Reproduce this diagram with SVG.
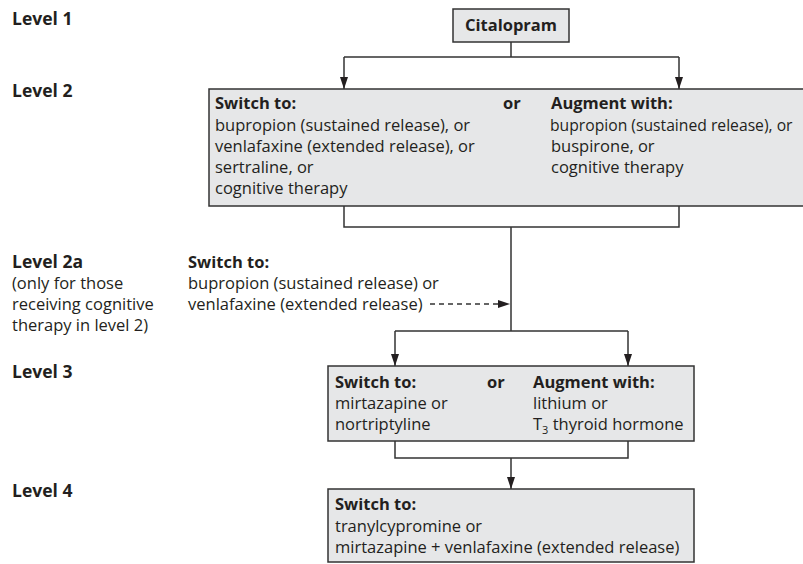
<svg xmlns="http://www.w3.org/2000/svg" width="803" height="564" viewBox="0 0 803 564">
<defs>
<marker id="ah" viewBox="0 0 12 8" refX="12" refY="4" markerWidth="12" markerHeight="8" markerUnits="userSpaceOnUse" orient="auto">
<path d="M0,0 L12,4 L0,8 Z" fill="#231f20"/>
</marker>
<style>
text{font-family:"Open Sans","Noto Sans","Liberation Sans",sans-serif;fill:#231f20;font-size:16.5px}
.b{font-weight:bold}
.lv{font-weight:bold;font-size:17.5px}
.box{fill:#e6e7e8;stroke:#333;stroke-width:1.5}
.ln{fill:none;stroke:#333;stroke-width:1.5}
.dash{fill:none;stroke:#333;stroke-width:1.3;stroke-dasharray:5 4}
</style>
</defs>
<rect width="803" height="564" fill="#fff"/>
<g id="labels">
<text class="lv" x="12" y="25">Level 1</text>
<text class="lv" x="12" y="97">Level 2</text>
<text class="lv" x="12" y="268">Level 2a</text>
<text x="12" y="289">(only for those</text>
<text x="12" y="310">receiving cognitive</text>
<text x="12" y="331">therapy in level 2)</text>
<text class="lv" x="12" y="378">Level 3</text>
<text class="lv" x="12" y="497">Level 4</text>
</g>
<g id="connectors">
<path class="ln" d="M511,42 V57 M344,57 H679"/>
<path class="ln" d="M344,57 V89" marker-end="url(#ah)"/>
<path class="ln" d="M679,57 V89" marker-end="url(#ah)"/>
<path class="ln" d="M344,206 V227 H679 V206 M511,227 V331 M395,331 H628"/>
<path class="dash" d="M430,304 H510" marker-end="url(#ah)"/>
<path class="ln" d="M395,331 V366" marker-end="url(#ah)"/>
<path class="ln" d="M628,331 V366" marker-end="url(#ah)"/>
<path class="ln" d="M395,441 V458 H628 V441"/>
<path class="ln" d="M511,458 V489" marker-end="url(#ah)"/>
</g>
<g id="citalopram">
<rect class="box" x="453" y="9" width="116" height="33"/>
<text class="b" x="511" y="31" text-anchor="middle">Citalopram</text>
</g>
<g id="level2">
<rect class="box" x="209" y="89" width="620" height="117"/>
<text class="b" x="215" y="109">Switch to:</text>
<text x="215" y="131">bupropion (sustained release), or</text>
<text x="215" y="152">venlafaxine (extended release), or</text>
<text x="215" y="173">sertraline, or</text>
<text x="215" y="194">cognitive therapy</text>
<text class="b" x="503" y="109">or</text>
<text class="b" x="551" y="109">Augment with:</text>
<text x="550" y="131" style="font-size:15.7px">bupropion (sustained release), or</text>
<text x="551" y="152">buspirone, or</text>
<text x="551" y="173">cognitive therapy</text>
</g>
<g id="level2a">
<text class="b" x="188" y="268">Switch to:</text>
<text x="188" y="289">bupropion (sustained release) or</text>
<text x="188" y="310">venlafaxine (extended release)</text>
</g>
<g id="level3">
<rect class="box" x="328" y="366" width="366" height="75"/>
<text class="b" x="335" y="388">Switch to:</text>
<text x="335" y="409">mirtazapine or</text>
<text x="335" y="430">nortriptyline</text>
<text class="b" x="487" y="388">or</text>
<text class="b" x="533" y="388">Augment with:</text>
<text x="533" y="409">lithium or</text>
<text x="533" y="430">T<tspan font-size="11" dy="4">3</tspan><tspan dy="-4"> thyroid hormone</tspan></text>
</g>
<g id="level4">
<rect class="box" x="328" y="489" width="366" height="73"/>
<text class="b" x="335" y="510">Switch to:</text>
<text x="335" y="532">tranylcypromine or</text>
<text x="335" y="553">mirtazapine + venlafaxine (extended release)</text>
</g>
</svg>
